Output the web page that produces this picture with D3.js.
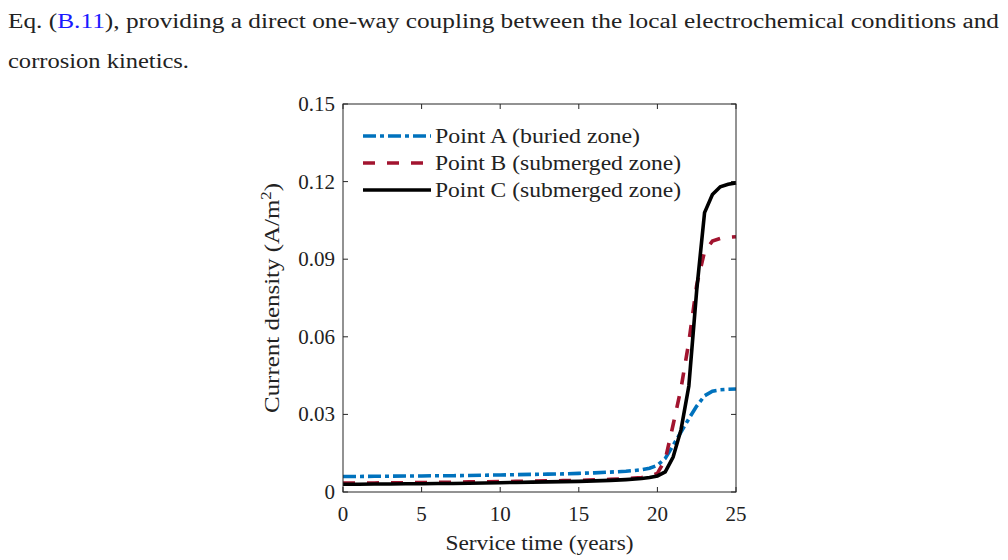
<!DOCTYPE html>
<html lang="en">
	<head>
		<meta charset="UTF-8">
		<title>Current density vs service time</title>
		<style>
			body, html {
				margin: 0;
				background-color: #ffffff;
			}
			text { font-family: "Liberation Serif", "DejaVu Serif", serif; fill: #222; }
		</style>
	</head>
	<body>
		<svg id="svg" width="1008" height="560"></svg>

		<script src="https://d3js.org/d3.v7.min.js"></script>
		<script>
			// service time (years)
			const years = [0, 1, 2, 3, 4, 5, 6, 7, 8, 9, 10, 11, 12, 13, 14, 15, 16, 17, 18, 19, 19.5, 20, 20.5, 21, 21.5, 22, 22.5, 23, 23.5, 24, 24.5, 25]
			const pointA = [0.0060, 0.0060, 0.0061, 0.0061, 0.0062, 0.0062, 0.0063, 0.0063, 0.0064, 0.0065, 0.0066, 0.0067, 0.0068, 0.0069, 0.0070, 0.0072, 0.0074, 0.0077, 0.0080, 0.0086, 0.0092, 0.0103, 0.0130, 0.0180, 0.0232, 0.0283, 0.0332, 0.0372, 0.0390, 0.0395, 0.0397, 0.0398]
			const pointB = [0.0035, 0.0035, 0.0035, 0.0036, 0.0036, 0.0037, 0.0037, 0.0038, 0.0039, 0.0039, 0.0040, 0.0041, 0.0042, 0.0043, 0.0044, 0.0045, 0.0047, 0.0049, 0.0051, 0.0056, 0.0061, 0.0072, 0.0125, 0.0260, 0.0400, 0.0580, 0.0800, 0.0930, 0.0970, 0.0980, 0.0985, 0.0987]
			const pointC = [0.0030, 0.0030, 0.0031, 0.0031, 0.0032, 0.0032, 0.0033, 0.0033, 0.0034, 0.0035, 0.0036, 0.0037, 0.0038, 0.0039, 0.0040, 0.0041, 0.0043, 0.0045, 0.0048, 0.0052, 0.0056, 0.0062, 0.0078, 0.0135, 0.0240, 0.0410, 0.0780, 0.1080, 0.1150, 0.1180, 0.1190, 0.1195]
			const xTicks = [0, 5, 10, 15, 20, 25]
			const yTicks = [0, 0.03, 0.06, 0.09, 0.12, 0.15]
			const seriesNames = ['Point A (buried zone)', 'Point B (submerged zone)', 'Point C (submerged zone)']
			const seriesColors = ['#0072bd', '#a2142f', '#000000']
			const seriesDash = ['13,4,4,4', '12,12', null]

			const svg = d3.select('#svg')

			// surrounding paragraph text
			svg.append('text').attr('x', 8).attr('y', 28)
				.attr('textLength', 991).attr('lengthAdjust', 'spacingAndGlyphs')
				.style('font-size', '20px')
				.html('Eq. (<tspan fill="#1a1aff">B.11</tspan>), providing a direct one-way coupling between the local electrochemical conditions and')
			svg.append('text').attr('x', 8).attr('y', 68)
				.attr('textLength', 181).attr('lengthAdjust', 'spacingAndGlyphs')
				.style('font-size', '20px')
				.text('corrosion kinetics.')

			const pLeft = 343, pRight = 736, pTop = 104, pBottom = 492
			const x = d3.scaleLinear().domain([0, 25]).range([pLeft, pRight])
			const y = d3.scaleLinear().domain([0, 0.15]).range([pBottom, pTop])

			const g = svg.append('g')

			// ticks (inward, mirrored)
			const tickLen = 5
			xTicks.forEach(t => {
				g.append('line').attr('x1', x(t)).attr('x2', x(t)).attr('y1', pBottom).attr('y2', pBottom - tickLen).attr('stroke', '#262626')
				g.append('line').attr('x1', x(t)).attr('x2', x(t)).attr('y1', pTop).attr('y2', pTop + tickLen).attr('stroke', '#262626')
				g.append('text').attr('x', x(t)).attr('y', pBottom + 29).attr('text-anchor', 'middle')
					.style('font-size', '21px').text(t)
			})
			yTicks.forEach(t => {
				g.append('line').attr('y1', y(t)).attr('y2', y(t)).attr('x1', pLeft).attr('x2', pLeft + tickLen).attr('stroke', '#262626')
				g.append('line').attr('y1', y(t)).attr('y2', y(t)).attr('x1', pRight).attr('x2', pRight - tickLen).attr('stroke', '#262626')
				g.append('text').attr('x', pLeft - 8).attr('y', y(t) + 7).attr('text-anchor', 'end')
					.style('font-size', '21px').text(t === 0 ? '0' : d3.format('.2f')(t))
			})

			// axis labels
			g.append('text').attr('x', (pLeft + pRight) / 2 + 0).attr('y', 550).attr('text-anchor', 'middle')
				.attr('textLength', 188).attr('lengthAdjust', 'spacingAndGlyphs')
				.style('font-size', '21px').text('Service time (years)')
			g.append('text').attr('transform', `translate(279,${(pTop + pBottom) / 2}) rotate(-90)`)
				.attr('text-anchor', 'middle').style('font-size', '21px')
				.attr('textLength', 230).attr('lengthAdjust', 'spacingAndGlyphs')
				.html('Current density (A/m<tspan dy="-8" font-size="14px">2</tspan><tspan dy="8">)</tspan>')

			// lines
			const series = [pointA, pointB, pointC]
			const line = d3.line().x((d, i) => x(years[i])).y(d => y(d))
			series.forEach((s, k) => {
				g.append('path').datum(s)
					.attr('d', line)
					.attr('fill', 'none')
					.attr('stroke', seriesColors[k])
					.attr('stroke-width', 3.6)
					.attr('stroke-dasharray', seriesDash[k])
			})

			// axes box
			g.append('rect').attr('x', pLeft).attr('y', pTop).attr('width', pRight - pLeft).attr('height', pBottom - pTop)
				.attr('fill', 'none').attr('stroke', '#262626').attr('stroke-width', 1)

			// legend
			const legendLen = [205, 246, 246]
			seriesNames.forEach((n, k) => {
				const ly = 136 + k * 27
				g.append('line').attr('x1', 363).attr('x2', 431).attr('y1', ly).attr('y2', ly)
					.attr('stroke', seriesColors[k]).attr('stroke-width', 3.6)
					.attr('stroke-dasharray', seriesDash[k])
				g.append('text').attr('x', 435).attr('y', ly + 7).style('font-size', '21px')
					.attr('textLength', legendLen[k]).attr('lengthAdjust', 'spacingAndGlyphs')
					.text(n)
			})
		</script>
	</body>
</html>
